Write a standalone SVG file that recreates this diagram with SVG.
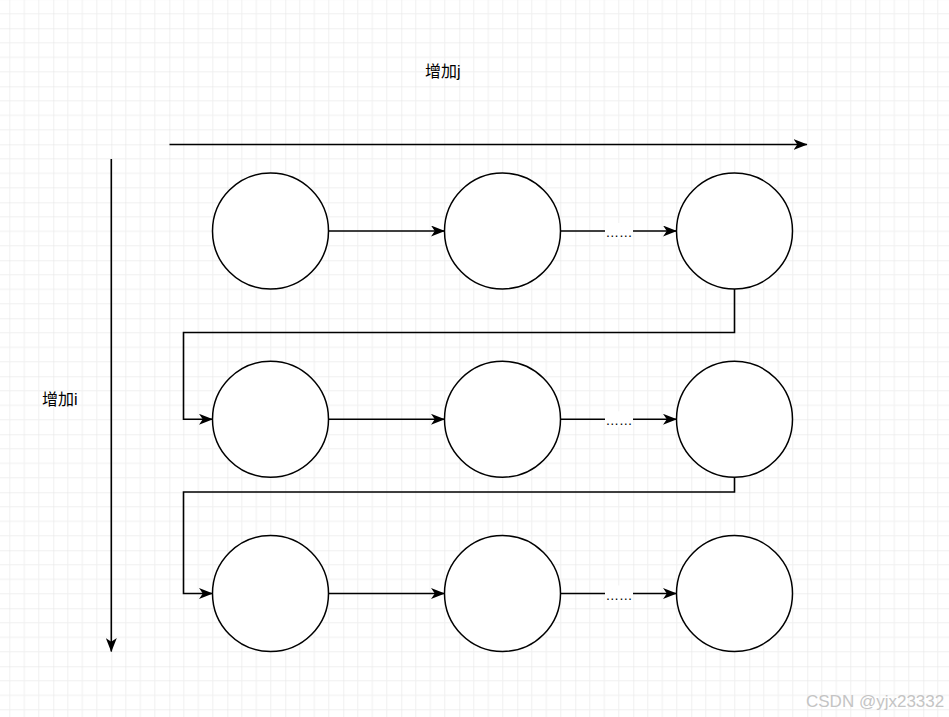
<svg xmlns="http://www.w3.org/2000/svg" width="949" height="717" viewBox="0 0 949 717">
<defs>
<pattern id="grid" patternUnits="userSpaceOnUse" x="-4.7" y="-29.7" width="58" height="58">
<path d="M14.5,0V58M29,0V58M43.5,0V58M0,14.5H58M0,29H58M0,43.5H58" stroke="#f0f0f0" stroke-width="1" fill="none"/>
<path d="M0,0V58M0,0H58" stroke="#e2e2e2" stroke-width="1" fill="none"/>
</pattern>
<marker id="arr" markerUnits="userSpaceOnUse" viewBox="0 0 14 11" refX="13.5" refY="5.5" markerWidth="14" markerHeight="11" orient="auto">
<path d="M0,0 L14,5.5 L0,11 L3.8,5.5 Z" fill="#000"/>
</marker>
</defs>
<style>
.node{fill:#fff;stroke:#000;stroke-width:1.5}
.edge{fill:none;stroke:#000;stroke-width:1.6;marker-end:url(#arr)}
.lbl{font-family:"Liberation Sans","Noto Sans CJK SC",sans-serif;font-size:16px;fill:#000}
.dots{font-family:"Liberation Sans",sans-serif;font-size:13.5px;fill:#000;text-anchor:middle}
</style>
<rect width="949" height="717" fill="#fff"/>
<rect width="949" height="717" fill="url(#grid)"/>

<g id="label-j"><text class="lbl" x="425" y="77">增加j</text></g>
<g id="label-i"><text class="lbl" x="42" y="405">增加i</text></g>

<g id="connectors">
<path class="edge" d="M169.5,144.5H807"/>
<path class="edge" d="M111.3,159V651.5"/>
<path class="edge" d="M328.5,231H444.5"/>
<path class="edge" d="M560.5,231H676.5"/>
<path class="edge" d="M734.5,289V332.5H183.5V419.3H212.5"/>
<path class="edge" d="M328.5,419.3H444.5"/>
<path class="edge" d="M560.5,419.3H676.5"/>
<path class="edge" d="M734.5,477.3V492H183.5V593.5H212.5"/>
<path class="edge" d="M328.5,593.5H444.5"/>
<path class="edge" d="M560.5,593.5H676.5"/>
<g id="edge-labels">
<rect x="605" y="223" width="28" height="16" fill="#fff"/>
<text class="dots" x="619" y="237">……</text>
<rect x="605" y="411.3" width="28" height="16" fill="#fff"/>
<text class="dots" x="619" y="425.3">……</text>
<rect x="605" y="585.5" width="28" height="16" fill="#fff"/>
<text class="dots" x="619" y="599.5">……</text>
</g>
</g>

<g id="n11"><circle class="node" cx="270.5" cy="231" r="58"/></g>
<g id="n12"><circle class="node" cx="502.5" cy="231" r="58"/></g>
<g id="n13"><circle class="node" cx="734.5" cy="231" r="58"/></g>
<g id="n21"><circle class="node" cx="270.5" cy="419.3" r="58"/></g>
<g id="n22"><circle class="node" cx="502.5" cy="419.3" r="58"/></g>
<g id="n23"><circle class="node" cx="734.5" cy="419.3" r="58"/></g>
<g id="n31"><circle class="node" cx="270.5" cy="593.5" r="58"/></g>
<g id="n32"><circle class="node" cx="502.5" cy="593.5" r="58"/></g>
<g id="n33"><circle class="node" cx="734.5" cy="593.5" r="58"/></g>

<text x="806" y="707" font-family="Liberation Sans, sans-serif" font-size="17" fill="#c4c4c4">CSDN @yjx23332</text>
</svg>
